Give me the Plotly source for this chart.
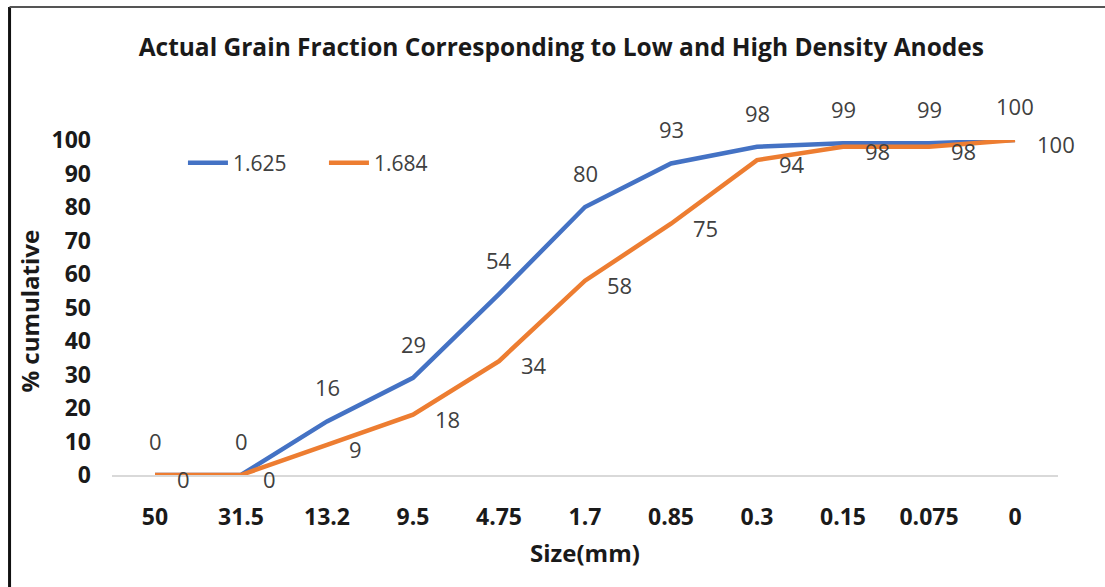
import plotly.graph_objects as go

sizes = ["50", "31.5", "13.2", "9.5", "4.75", "1.7", "0.85", "0.3", "0.15", "0.075", "0"]
low_density = [0, 0, 16, 29, 54, 80, 93, 98, 99, 99, 100]    # 1.625
high_density = [0, 0, 9, 18, 34, 58, 75, 94, 98, 98, 100]    # 1.684
series_names = ["1.625", "1.684"]
y_ticks = [0, 10, 20, 30, 40, 50, 60, 70, 80, 90, 100]

BLUE = "#4472C4"
ORANGE = "#ED7D31"
FONT = "Open Sans"
LABEL_COLOR = "#404040"

fig = go.Figure()
fig.add_trace(go.Scatter(x=sizes, y=low_density, mode="lines", name=series_names[0],
                         line=dict(color=BLUE, width=4.5)))
fig.add_trace(go.Scatter(x=sizes, y=high_density, mode="lines", name=series_names[1],
                         line=dict(color=ORANGE, width=4.5)))

annotations = []
for i, yv in enumerate(low_density):
    annotations.append(dict(x=i, y=yv, xref="x", yref="y", text=str(yv), showarrow=False,
                            xanchor="center", yanchor="middle", yshift=34,
                            font=dict(family=FONT, size=22, color=LABEL_COLOR)))
for i, yv in enumerate(high_density):
    annotations.append(dict(x=i, y=yv, xref="x", yref="y", text=str(yv), showarrow=False,
                            xanchor="left", yanchor="middle", xshift=20, yshift=-4,
                            font=dict(family=FONT, size=22, color=LABEL_COLOR)))

annotations.append(dict(x=0.5, y=-0.23, xref="paper", yref="paper", text="<b>Size(mm)</b>",
                        showarrow=False, xanchor="center", yanchor="middle",
                        font=dict(family=FONT, size=24, color="#1a1a1a")))
annotations.append(dict(x=-0.087, y=0.49, xref="paper", yref="paper", text="<b>% cumulative</b>",
                        showarrow=False, textangle=-90, xanchor="center", yanchor="middle",
                        font=dict(family=FONT, size=24, color="#1a1a1a")))

shapes = [
    dict(type="line", xref="paper", yref="paper", x0=-0.1083, x1=-0.1083, y0=1.397, y1=-0.34,
         line=dict(color="#111111", width=3)),
    dict(type="line", xref="paper", yref="paper", x0=-0.1083, x1=1.05, y0=1.397, y1=1.397,
         line=dict(color="#555555", width=2)),
]

fig.update_layout(
    width=1105, height=587,
    margin=dict(l=112, r=47, t=140, b=112),
    paper_bgcolor="white", plot_bgcolor="white",
    title=dict(text="<b>Actual Grain Fraction Corresponding to Low and High Density Anodes</b>",
               x=0.508, xanchor="center", y=1 - 47 / 587, yanchor="middle",
               font=dict(family=FONT, size=24.5, color="#1a1a1a")),
    showlegend=True,
    legend=dict(orientation="h", x=0.075, y=0.931, xanchor="left", yanchor="middle",
                font=dict(family=FONT, size=21, color=LABEL_COLOR),
                bgcolor="rgba(0,0,0,0)", itemwidth=40, entrywidth=86, entrywidthmode="pixels"),
    xaxis=dict(type="category", categoryorder="array", categoryarray=sizes,
               range=[-0.5, 10.5], showgrid=False, zeroline=False,
               showline=True, linecolor="#d9d9d9", linewidth=2,
               ticks="", ticklabelstandoff=20,
               tickfont=dict(family=FONT, size=23, color="#1a1a1a", weight="bold")),
    yaxis=dict(range=[0, 100], tickvals=y_ticks, showgrid=False, zeroline=False,
               showline=False, ticks="", ticklabelstandoff=20,
               tickfont=dict(family=FONT, size=23, color="#1a1a1a", weight="bold")),
    annotations=annotations,
    shapes=shapes,
)

fig.write_html("out.html")
